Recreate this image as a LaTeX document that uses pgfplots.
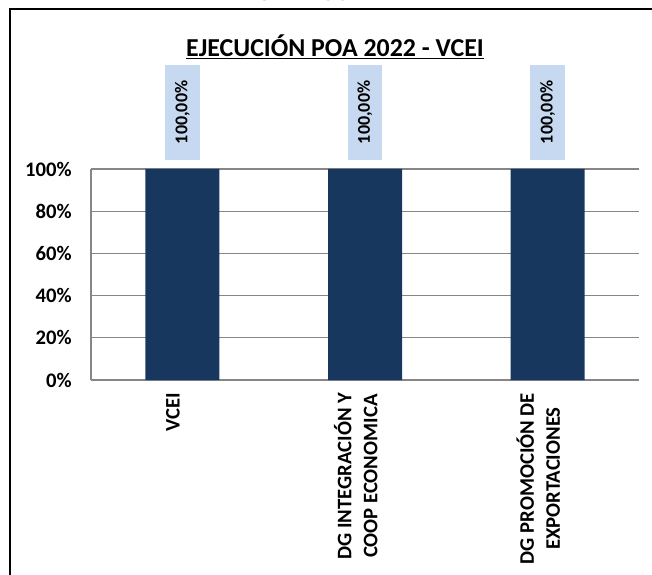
\documentclass[border=0pt]{standalone}
\usepackage{pgfplots}
\pgfplotsset{compat=1.18}
\usepackage{fontspec}
\setmainfont{Carlito}
\definecolor{barblue}{RGB}{23,55,94}
\definecolor{lblbox}{RGB}{198,217,241}
\definecolor{gridgray}{RGB}{134,134,134}
\begin{document}
\begin{tikzpicture}
\begin{axis}[
  name=ax,
  scale only axis, width=411pt, height=158.25pt,
  xmin=-0.5, xmax=2.5, ymin=0, ymax=100,
  axis x line*=bottom, axis y line*=left,
  axis line style={draw=gridgray, line width=0.9pt, -},
  ymajorgrids, grid style={draw=gridgray, line width=0.9pt},
  major tick length=0,
  xtick=data,
  xticklabels={VCEI,{DG INTEGRACIÓN Y\\COOP ECONOMICA},{DG PROMOCIÓN DE\\EXPORTACIONES}},
  xticklabel style={font=\bfseries\fontsize{15.5}{19.5}\selectfont, xshift=-7pt, rotate=90, anchor=east, align=center, inner xsep=9.5pt},
  ytick={0,20,40,60,80,100},
  yticklabels={0\%,20\%,40\%,60\%,80\%,100\%},
  yticklabel style={font=\bfseries\fontsize{15.5}{18}\selectfont, xshift=-11pt},
  /pgf/number format/assume math mode=true,
  ybar, bar width=55.5pt,
  nodes near coords={\pgfmathprintnumber[fixed,fixed zerofill,precision=2,use comma]{\pgfplotspointmeta}\%},
  nodes near coords style={yshift=6.75pt, rotate=90, anchor=west, fill=lblbox, inner sep=0pt, minimum width=71pt, minimum height=26pt, font=\bfseries\fontsize{13.5}{16}\selectfont, text=black},
]
\addplot[fill=barblue, draw=none] coordinates {(0,100) (1,100) (2,100)};
\end{axis}
% outer frame (relative to axis rectangle south west corner)
\draw[line width=1.6pt,black] ([shift={(-60.5pt,-160pt)}]ax.south west) -- ([shift={(-60.5pt,278.25pt)}]ax.south west) -- ([shift={(440pt,278.25pt)}]ax.south west);
% cut-off chart number
\node[anchor=base,font=\bfseries\fontsize{19.4}{23}\selectfont] at ([shift={(183pt,284.6pt)}]ax.south west) {GRÁFICO N° 11};
% title
\node[font=\bfseries\fontsize{19.4}{23}\selectfont] at ([shift={(183pt,249.75pt)}]ax.south west) {\underline{EJECUCIÓN POA 2022 - VCEI}};
\pgfresetboundingbox
\useasboundingbox ([shift={(-68.25pt,-145.5pt)}]ax.south west) rectangle ([shift={(420.75pt,285pt)}]ax.south west);
\end{tikzpicture}
\end{document}
